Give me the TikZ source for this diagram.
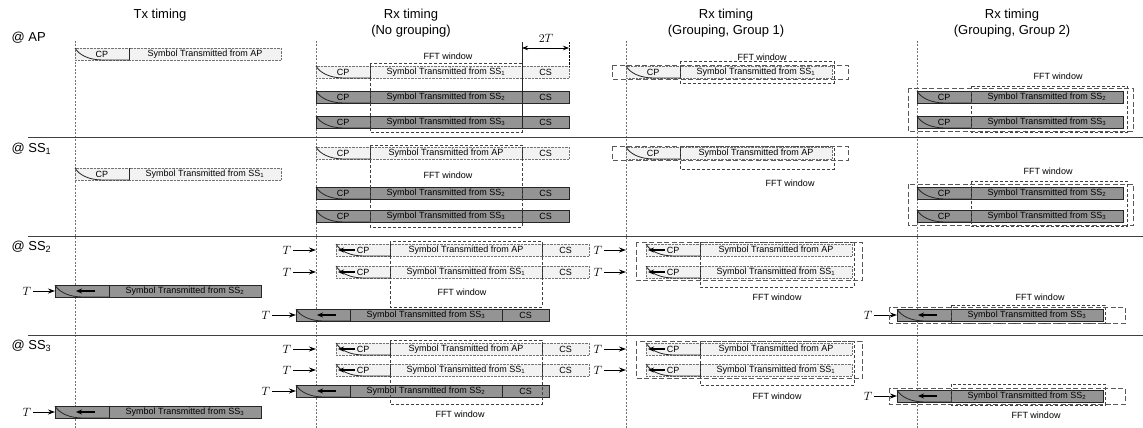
\documentclass[tikz,border=0pt]{standalone}
\usepackage{fontspec}
\setmainfont{Liberation Sans}
\usetikzlibrary{arrows.meta,positioning,calc}

\newcommand{\cellfont}{\fontsize{9}{10}\selectfont}
% one received/transmitted OFDM symbol: CP part + data part
\newcommand{\symrow}[5][CP]{%
  \node[cpcell,#4] (#2cp) at #3 {#1};
  \node[symcell,#4] (#2) at (#2cp.east) {Symbol Transmitted from #5};
  \draw[divider] (#2cp.north east) -- (#2cp.south east);
  \draw[cpcurve] (#2cp.north west) .. controls +(4,7) and +(-14,0) .. ($(#2cp.south west)+(28,0)$) -- (#2cp.south east);}
\newcommand{\csrow}[2]{%
  \node[cscell,#2] (#1cs) at (#1.east) {CS};
  \draw[divider] (#1.north east) -- (#1.south east);}
\newcommand{\lagmark}[1]{\draw[innerarr] ($(#1cp.west)+(19,0)$) -- ($(#1cp.west)+(2,0)$);}
\newcommand{\leadmark}[1]{\draw[innerarr] ($(#1cp.west)+(40,0)$) -- ($(#1cp.west)+(21,0)$);}

\begin{document}
\begin{tikzpicture}[x=1pt, y=-1pt, >=Stealth,
    cell/.style={minimum height=12pt, inner sep=0pt, outer sep=0pt, anchor=west, font=\cellfont},
    cpcell/.style={cell, minimum width=54pt},
    symcell/.style={cell, minimum width=152pt},
    cscell/.style={cell, minimum width=47pt},
    light/.style={draw=black!55, densely dotted, fill=black!5},
    dark/.style={draw=black!85, fill=black!42},
    divider/.style={draw=black!85, solid, line width=0.8pt},
    cpcurve/.style={draw=black!85, solid, line width=0.8pt},
    innerarr/.style={-{Stealth[length=6pt,width=5pt]}, line width=1.3pt},
    tarr/.style={-{Stealth[length=7pt,width=5pt]}, line width=0.9pt, shorten <=1pt},
    tlab/.style={font=\fontsize{12}{12}\selectfont, inner sep=1pt},
    head/.style={font=\fontsize{13}{16}\selectfont, align=center},
    stn/.style={font=\fontsize{13}{14}\selectfont, anchor=west},
    fftlab/.style={font=\cellfont},
    fftwin/.style={draw=black!75, dash pattern=on 3pt off 2pt, line width=0.6pt},
    grp/.style={draw=black!65, dash pattern=on 5pt off 2.5pt, line width=0.6pt},
    tline/.style={draw=black!55, dash pattern=on 2pt off 1.5pt, line width=0.5pt},
    sect/.style={draw=black!75, line width=0.9pt}]
  \useasboundingbox (0,0) rectangle (1143,428);

  % column heads and station labels
  \node[head] (hTx) at (160,15) {Tx timing};
  \node[head] (hNG) at (411,23) {Rx timing\\(No grouping)};
  \node[head] (hG1) at (726,23) {Rx timing\\(Grouping, Group 1)};
  \node[head] (hG2) at (1012,23) {Rx timing\\(Grouping, Group 2)};
  \node[stn] (sAP) at (8,38) {@ AP};
  \node[stn] (sS1) at (8,149) {@ SS\textsubscript{1}};
  \node[stn] (sS2) at (8,247) {@ SS\textsubscript{2}};
  \node[stn] (sS3) at (8,346) {@ SS\textsubscript{3}};

  \foreach \x in {75,316,626,917} \draw[tline] (\x,41) -- (\x,428);
  \foreach \y in {137,236,335} \draw[sect] (28,\y) -- (1143,\y);

  % ---- @ AP
  \symrow{txA}{(75,54)}{light}{AP}
  \symrow{ngA1}{(316,72)}{light}{SS\textsubscript{1}} \csrow{ngA1}{light}
  \symrow{ngA2}{(316,97)}{dark}{SS\textsubscript{2}} \csrow{ngA2}{dark}
  \symrow{ngA3}{(316,122)}{dark}{SS\textsubscript{3}} \csrow{ngA3}{dark}
  \draw[fftwin] ($(ngA1.north west)+(0,-3)$) rectangle ($(ngA3.south east)+(0,4)$);
  \node[fftlab] (fA0) at (448,56) {FFT window};
  \coordinate (csL) at (522,42);
  \coordinate (csR) at (569,42);
  \draw[divider] (csL) -- (ngA3cs.south west);
  \draw[densely dotted] (csR) -- (ngA1cs.north east);
  \draw[{Stealth[length=6pt]}-{Stealth[length=6pt]}, line width=0.8pt] ($(csL)+(0,6)$) -- ($(csR)+(0,6)$);
  \node[tlab] (twoT) at (546,38) {$2T$};

  \symrow{gaA}{(626,72)}{light}{SS\textsubscript{1}}
  \draw[fftwin] ($(gaA.north west)+(0,-5)$) rectangle ($(gaA.south east)+(2,5)$);
  \draw[grp] ($(gaAcp.north west)+(-14,-1)$) rectangle ($(gaA.south east)+(16,1)$);
  \node[fftlab] (fA1) at (762,57) {FFT window};

  \symrow{gbA1}{(917,97)}{dark}{SS\textsubscript{2}}
  \symrow{gbA2}{(917,122)}{dark}{SS\textsubscript{3}}
  \draw[fftwin] ($(gbA1.north west)+(0,-5)$) rectangle ($(gbA2.south east)+(4,4)$);
  \draw[grp] ($(gbA1cp.north west)+(-9,-3)$) rectangle ($(gbA2.south east)+(10,3)$);
  \node[fftlab] (fA2) at (1058,76) {FFT window};

  % ---- @ SS1
  \symrow{txB}{(75,174)}{light}{SS\textsubscript{1}}
  \symrow{ngB1}{(316,153)}{light}{AP} \csrow{ngB1}{light}
  \symrow{ngB2}{(316,193)}{dark}{SS\textsubscript{2}} \csrow{ngB2}{dark}
  \symrow{ngB3}{(316,216)}{dark}{SS\textsubscript{3}} \csrow{ngB3}{dark}
  \draw[fftwin] ($(ngB1.north west)+(0,-2)$) rectangle ($(ngB3.south east)+(0,5)$);
  \node[fftlab] (fB0) at (448,175) {FFT window};

  \symrow{gaB}{(626,153)}{light}{AP}
  \draw[fftwin] ($(gaB.north west)+(0,-1)$) rectangle ($(gaB.south east)+(2,10)$);
  \draw[grp] ($(gaBcp.north west)+(-14,-1)$) rectangle ($(gaB.south east)+(16,1)$);
  \node[fftlab] (fB1) at (790,183) {FFT window};

  \symrow{gbB1}{(917,193)}{dark}{SS\textsubscript{2}}
  \symrow{gbB2}{(917,216)}{dark}{SS\textsubscript{3}}
  \draw[fftwin] ($(gbB1.north west)+(0,-6)$) rectangle ($(gbB2.south east)+(4,4)$);
  \draw[grp] ($(gbB1cp.north west)+(-9,-3)$) rectangle ($(gbB2.south east)+(10,3)$);
  \node[fftlab] (fB2) at (1048,171) {FFT window};

  % ---- @ SS2
  \symrow[]{txC}{(55,291)}{dark}{SS\textsubscript{2}} \leadmark{txC}
  \node[tlab] (tC0) at (27,291) {$T$};
  \draw[tarr] (tC0) -- (txCcp.west);

  \symrow{ngC1}{(336,250)}{light}{AP} \csrow{ngC1}{light} \lagmark{ngC1}
  \symrow{ngC2}{(336,272)}{light}{SS\textsubscript{1}} \csrow{ngC2}{light} \lagmark{ngC2}
  \symrow[]{ngC3}{(296,315)}{dark}{SS\textsubscript{3}} \csrow{ngC3}{dark} \leadmark{ngC3}
  \node[tlab] (tC1) at (287,250) {$T$};
  \node[tlab] (tC2) at (287,272) {$T$};
  \node[tlab] (tC3) at (266,315) {$T$};
  \draw[tarr] (tC1) -- ($(ngC1cp.west)+(-20,0)$);
  \draw[tarr] (tC2) -- ($(ngC2cp.west)+(-20,0)$);
  \draw[tarr] (tC3) -- (ngC3cp.west);
  \draw[fftwin] ($(ngC1.north west)+(0,-3)$) rectangle ($(ngC2.south east)+(0,29)$);
  \node[fftlab] (fC0) at (462,292) {FFT window};

  \symrow{gaC1}{(646,250)}{light}{AP} \lagmark{gaC1}
  \symrow{gaC2}{(646,272)}{light}{SS\textsubscript{1}} \lagmark{gaC2}
  \node[tlab] (tC4) at (598,250) {$T$};
  \node[tlab] (tC5) at (598,272) {$T$};
  \draw[tarr] (tC4) -- ($(gaC1cp.west)+(-20,0)$);
  \draw[tarr] (tC5) -- ($(gaC2cp.west)+(-20,0)$);
  \draw[fftwin] ($(gaC1.north west)+(0,-2)$) rectangle ($(gaC2.south east)+(2,9)$);
  \draw[grp] ($(gaC1cp.north west)+(-10,-2)$) rectangle ($(gaC2.south east)+(10,2)$);
  \node[fftlab] (fC1) at (777,297) {FFT window};

  \symrow[]{gbC}{(897,315)}{dark}{SS\textsubscript{3}} \leadmark{gbC}
  \node[tlab] (tC6) at (868,315) {$T$};
  \draw[tarr] (tC6) -- (gbCcp.west);
  \draw[fftwin] ($(gbC.north west)+(0,-4)$) rectangle ($(gbC.south east)+(2,2)$);
  \draw[grp] ($(gbCcp.north west)+(-8,-2)$) rectangle ($(gbC.south east)+(22,2)$);
  \node[fftlab] (fC2) at (1040,297) {FFT window};

  % ---- @ SS3
  \symrow[]{txD}{(55,412)}{dark}{SS\textsubscript{3}} \leadmark{txD}
  \node[tlab] (tD0) at (27,412) {$T$};
  \draw[tarr] (tD0) -- (txDcp.west);

  \symrow{ngD1}{(336,349)}{light}{AP} \csrow{ngD1}{light} \lagmark{ngD1}
  \symrow{ngD2}{(336,370)}{light}{SS\textsubscript{1}} \csrow{ngD2}{light} \lagmark{ngD2}
  \symrow[]{ngD3}{(296,391)}{dark}{SS\textsubscript{2}} \csrow{ngD3}{dark} \leadmark{ngD3}
  \node[tlab] (tD1) at (287,349) {$T$};
  \node[tlab] (tD2) at (287,370) {$T$};
  \node[tlab] (tD3) at (266,391) {$T$};
  \draw[tarr] (tD1) -- ($(ngD1cp.west)+(-20,0)$);
  \draw[tarr] (tD2) -- ($(ngD2cp.west)+(-20,0)$);
  \draw[tarr] (tD3) -- (ngD3cp.west);
  \draw[fftwin] ($(ngD1.north west)+(0,-3)$) rectangle ($(ngD2.south east)+(0,28)$);
  \node[fftlab] (fD0) at (460,414) {FFT window};

  \symrow{gaD1}{(646,349)}{light}{AP} \lagmark{gaD1}
  \symrow{gaD2}{(646,370)}{light}{SS\textsubscript{1}} \lagmark{gaD2}
  \node[tlab] (tD4) at (598,349) {$T$};
  \node[tlab] (tD5) at (598,370) {$T$};
  \draw[tarr] (tD4) -- ($(gaD1cp.west)+(-20,0)$);
  \draw[tarr] (tD5) -- ($(gaD2cp.west)+(-20,0)$);
  \draw[fftwin] ($(gaD1.north west)+(0,-2)$) rectangle ($(gaD2.south east)+(2,9)$);
  \draw[grp] ($(gaD1cp.north west)+(-10,-2)$) rectangle ($(gaD2.south east)+(10,2)$);
  \node[fftlab] (fD1) at (777,396) {FFT window};

  \symrow[]{gbD}{(897,396)}{dark}{SS\textsubscript{2}} \leadmark{gbD}
  \node[tlab] (tD6) at (868,396) {$T$};
  \draw[tarr] (tD6) -- (gbDcp.west);
  \draw[fftwin] ($(gbD.north west)+(0,-6)$) rectangle ($(gbD.south east)+(2,3)$);
  \draw[grp] ($(gbDcp.north west)+(-8,-2)$) rectangle ($(gbD.south east)+(22,2)$);
  \node[fftlab] (fD2) at (1036,415) {FFT window};
\end{tikzpicture}
\end{document}
